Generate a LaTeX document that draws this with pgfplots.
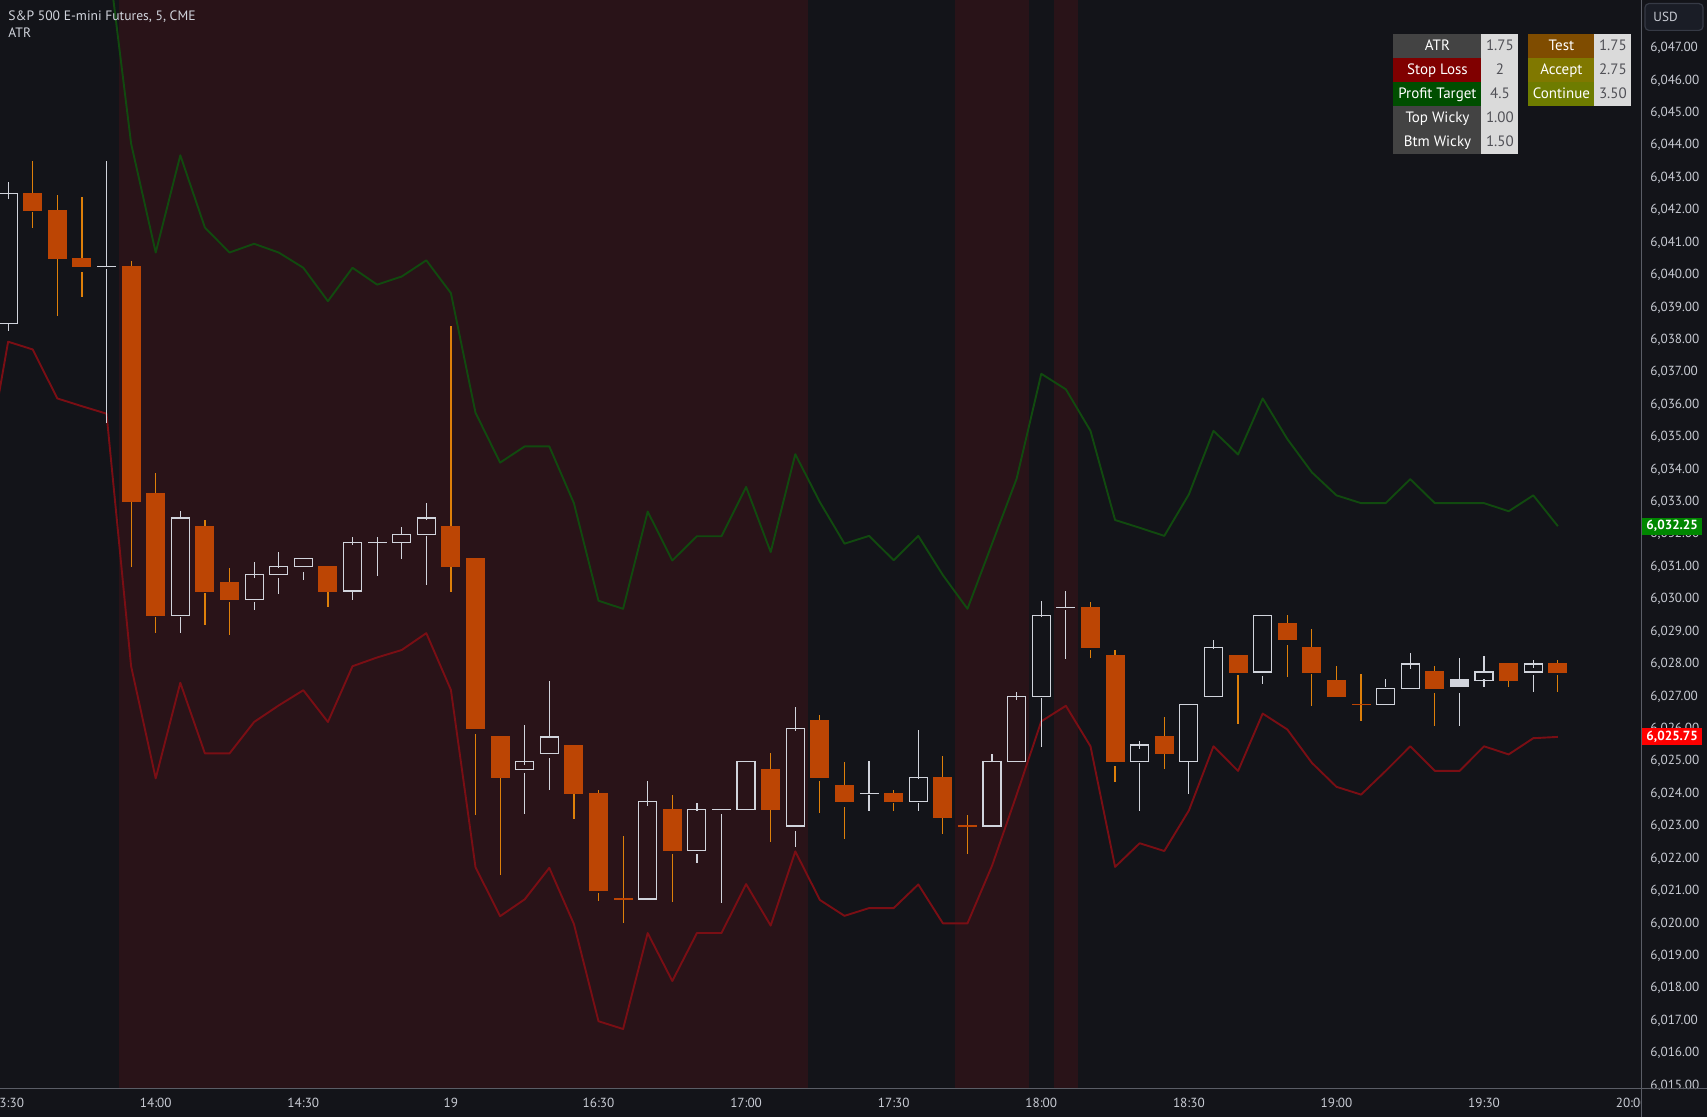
\documentclass[border=0pt]{standalone}
\usepackage{fontspec}
\setmainfont{PT Sans}
\usepackage{pgfplots}
\usepackage{pgfplotstable}
\pgfplotsset{compat=1.18}

\definecolor{bgcol}{RGB}{19,20,25}
\definecolor{shade}{RGB}{41,19,24}
\definecolor{bullcol}{RGB}{209,212,220}
\definecolor{bearbody}{RGB}{188,69,4}
\definecolor{bearwick}{RGB}{222,128,10}
\definecolor{tgtcol}{RGB}{17,74,15}
\definecolor{slcol}{RGB}{122,14,20}
\definecolor{axtext}{RGB}{200,203,211}
\definecolor{sepcol}{RGB}{90,93,102}
\definecolor{cellgray}{RGB}{67,67,67}
\definecolor{cellred}{RGB}{128,0,0}
\definecolor{cellgreen}{RGB}{0,78,0}
\definecolor{celltest}{RGB}{127,76,0}
\definecolor{cellacc}{RGB}{128,120,0}
\definecolor{cellcont}{RGB}{110,124,0}
\definecolor{cellval}{RGB}{218,218,218}
\definecolor{valtext}{RGB}{80,80,86}
\definecolor{pgcol}{RGB}{0,135,0}
\definecolor{pscol}{RGB}{255,0,0}
\definecolor{usdfill}{RGB}{26,29,38}
\definecolor{usdline}{RGB}{54,58,69}

% candles: i = bar index (0 = 14:00), o h l c
\pgfplotstableread{
i o h l c
-6 6038.5 6043 6038.25 6042.5
-2 6040.25 6043.5 6035.5 6040.25
1 6029.5 6032.75 6029 6032.5
4 6030 6031.25 6029.75 6030.75
5 6030.75 6031.5 6030.25 6031
6 6031 6031.25 6030.75 6031.25
8 6030.25 6032 6030 6031.75
9 6031.75 6032 6030.75 6031.75
10 6031.75 6032.25 6031.25 6032
11 6032 6033 6030.5 6032.5
15 6024.75 6026.25 6023.5 6025
16 6025.25 6027.5 6024.25 6025.75
20 6020.75 6024.5 6020.75 6023.75
22 6022.25 6023.75 6022 6023.5
23 6023.5 6023.5 6020.75 6023.5
24 6023.5 6025 6023.5 6025
26 6023 6026.75 6022.5 6026
29 6024 6025 6023.5 6024
31 6023.75 6026 6023.5 6024.5
34 6023 6025.25 6023 6025
35 6025 6027.25 6025 6027
36 6027 6030 6025.5 6029.5
37 6029.75 6030.25 6028.25 6029.75
40 6025 6025.75 6023.5 6025.5
42 6025 6026.75 6024 6026.75
43 6027 6028.75 6027 6028.5
45 6027.75 6029.5 6027.5 6029.5
50 6026.75 6027.5 6026.75 6027.25
51 6027.25 6028.5 6027.25 6028
54 6027.5 6028.25 6027.25 6027.75
56 6027.75 6028.25 6027.25 6028
}\bulltab

\pgfplotstableread{
i o h l c
-5 6042.5 6043.5 6041.5 6042
-4 6042 6042.5 6038.75 6040.5
-3 6040.5 6042.5 6039.5 6040.25
-1 6040.25 6040.5 6031 6033
0 6033.25 6034 6029 6029.5
2 6032.25 6032.5 6029.25 6030.25
3 6030.5 6031 6029 6030
7 6031 6031 6029.75 6030.25
12 6032.25 6038.5 6030.25 6031
13 6031.25 6031.25 6023.5 6026
14 6025.75 6025.75 6021.5 6024.5
17 6025.5 6025.5 6023.25 6024
18 6024 6024.25 6020.75 6021
19 6020.75 6022.75 6020 6020.75
21 6023.5 6024 6020.75 6022.25
25 6024.75 6025.25 6022.5 6023.5
27 6026.25 6026.5 6023.5 6024.5
28 6024.25 6025 6022.75 6023.75
30 6024 6024.25 6023.5 6023.75
32 6024.5 6025.25 6022.75 6023.25
33 6023 6023.5 6022.25 6023
38 6029.75 6030 6028.25 6028.5
39 6028.25 6028.5 6024.5 6025
41 6025.75 6026.5 6024.75 6025.25
44 6028.25 6028.25 6026.25 6027.75
46 6029.25 6029.5 6027.75 6028.75
47 6028.5 6029.25 6026.75 6027.75
48 6027.5 6028 6027 6027
49 6026.75 6027.75 6026.25 6026.75
52 6027.75 6028 6026.25 6027.25
55 6028 6028 6027.25 6027.5
57 6028 6028.25 6027.25 6027.75
}\beartab

\pgfplotstableread{
i o h l c
53 6027.5 6028.25 6026.25 6027.25
}\graytab

% profit target (pt) and stop loss (sl) lines
\pgfplotstableread{
i pt sl
-7 6051 6033.6
-6 6051 6037.94
-5 6051 6037.70
-4 6051 6036.19
-3 6051 6035.95
-2 6050.2 6035.72
-1 6044.05 6027.93
0 6040.69 6024.47
1 6043.69 6027.42
2 6041.46 6025.24
3 6040.69 6025.24
4 6040.96 6026.21
5 6040.69 6026.72
6 6040.22 6027.19
7 6039.19 6026.21
8 6040.22 6027.93
9 6039.70 6028.20
10 6039.95 6028.43
11 6040.45 6028.95
12 6039.44 6027.20
13 6035.75 6021.73
14 6034.21 6020.22
15 6034.71 6020.74
16 6034.71 6021.71
17 6032.96 6019.98
18 6029.95 6016.98
19 6029.70 6016.74
20 6032.70 6019.70
21 6031.19 6018.22
22 6031.94 6019.70
23 6031.94 6019.70
24 6033.46 6021.21
25 6031.45 6019.93
26 6034.47 6022.22
27 6032.99 6020.72
28 6031.71 6020.23
29 6031.95 6020.47
30 6031.20 6020.47
31 6031.95 6021.20
32 6030.74 6020.00
33 6029.70 6020.00
34 6031.71 6021.78
35 6033.72 6023.97
36 6036.95 6026.23
37 6036.47 6026.71
38 6035.19 6025.46
39 6032.44 6021.74
40 6032.20 6022.47
41 6031.95 6022.23
42 6033.23 6023.48
43 6035.19 6025.46
44 6034.46 6024.70
45 6036.19 6026.47
46 6034.94 6025.98
47 6033.91 6024.95
48 6033.20 6024.21
49 6032.96 6023.97
50 6032.96 6024.70
51 6033.70 6025.46
52 6032.96 6024.70
53 6032.96 6024.70
54 6032.96 6025.46
55 6032.71 6025.21
56 6033.20 6025.71
57 6032.25 6025.75
}\linetab

\pgfplotsset{
  chartbase/.style={
    at={(0pt,14pt)}, anchor=south west, scale only axis,
    width=820.5pt, height=544.5pt,
    xmin=-6.33, xmax=60.38, ymin=14.89, ymax=48.48,
  },
  wick/.style={draw=none, mark=none, forget plot,
    error bars/y dir=both, error bars/y explicit, error bars/error mark=none,
    error bars/error bar style={draw=#1, line width=0.6pt}},
  doji/.style={draw=none, mark=none, forget plot, unbounded coords=discard,
    error bars/x dir=both, error bars/x fixed=0.386, error bars/error mark=none,
    error bars/error bar style={draw=#1, line width=0.6pt}},
}

\newcommand{\tabfont}{\fontsize{7.5}{8}\selectfont}
\newcommand{\tcell}[6]{%
  \node[fill=#4, text=#5, font=\tabfont, anchor=north west, inner sep=0pt,
    minimum width=#2pt, minimum height=12pt, text height=5.2pt, text depth=1.5pt]
    at (#1pt,#3pt) {#6};}

\begin{document}
\begin{tikzpicture}
\fill[bgcol] (0,0) rectangle (853.5pt,558.5pt);

\begin{axis}[chartbase, clip mode=individual,
  axis line style={draw=none}, major tick length=0pt,
  xtick={-6,0,...,60},
  xticklabels={13:30,14:00,14:30,19,16:30,17:00,17:30,18:00,18:30,19:00,19:30,20:00},
  ytick={15,...,47}, yticklabel pos=right, scaled y ticks=false,
  /pgf/number format/assume math mode=true,
  yticklabel={6,0\pgfmathprintnumber[fixed,fixed zerofill,precision=2]{\tick}},
  ticklabel style={font=\fontsize{6.6}{8}\selectfont, text=axtext},
  xticklabel style={anchor=center, inner sep=0pt, yshift=-7pt},
  yticklabel style={anchor=west, inner sep=0pt, xshift=4.5pt},
]
  % session shading
  \addplot[fill=shade, draw=none, forget plot] coordinates {(-1.5,60) (26.5,60)} \closedcycle;
  \addplot[fill=shade, draw=none, forget plot] coordinates {(32.5,60) (35.5,60)} \closedcycle;
  \addplot[fill=shade, draw=none, forget plot] coordinates {(36.5,60) (37.5,60)} \closedcycle;

  \addplot[draw=tgtcol, line width=0.95pt, line join=round] table[x=i, y expr=\thisrow{pt}-6000] {\linetab};
  \addplot[draw=slcol, line width=0.95pt, line join=round] table[x=i, y expr=\thisrow{sl}-6000] {\linetab};

  % wicks
  \addplot[wick=bullcol] table[x=i, y expr={(\thisrow{h}+max(\thisrow{o},\thisrow{c}))/2-6000}, y error expr={(\thisrow{h}-max(\thisrow{o},\thisrow{c}))/2}] {\bulltab};
  \addplot[wick=bullcol] table[x=i, y expr={(\thisrow{l}+min(\thisrow{o},\thisrow{c}))/2-6000}, y error expr={(min(\thisrow{o},\thisrow{c})-\thisrow{l})/2}] {\bulltab};
  \addplot[wick=bearwick] table[x=i, y expr={(\thisrow{h}+max(\thisrow{o},\thisrow{c}))/2-6000}, y error expr={(\thisrow{h}-max(\thisrow{o},\thisrow{c}))/2}] {\beartab};
  \addplot[wick=bearwick] table[x=i, y expr={(\thisrow{l}+min(\thisrow{o},\thisrow{c}))/2-6000}, y error expr={(min(\thisrow{o},\thisrow{c})-\thisrow{l})/2}] {\beartab};
  \addplot[wick=bullcol] table[x=i, y expr={(\thisrow{h}+max(\thisrow{o},\thisrow{c}))/2-6000}, y error expr={(\thisrow{h}-max(\thisrow{o},\thisrow{c}))/2}] {\graytab};
  \addplot[wick=bullcol] table[x=i, y expr={(\thisrow{l}+min(\thisrow{o},\thisrow{c}))/2-6000}, y error expr={(min(\thisrow{o},\thisrow{c})-\thisrow{l})/2}] {\graytab};
  % doji bodies (open = close)
  \addplot[doji=bullcol] table[x=i, y expr={\thisrow{o}==\thisrow{c} ? \thisrow{o}-6000 : nan}] {\bulltab};
  \addplot[doji=bearbody] table[x=i, y expr={\thisrow{o}==\thisrow{c} ? \thisrow{o}-6000 : nan}] {\beartab};
  % filled light candle body
  \addplot[draw=none, mark=none, forget plot,
    error bars/y dir=both, error bars/y explicit, error bars/error mark=none,
    error bars/error bar style={draw=bullcol, line width=9.5pt}]
    table[x=i, y expr={(\thisrow{o}+\thisrow{c})/2-6000}, y error expr={abs(\thisrow{o}-\thisrow{c})/2}] {\graytab};

  \coordinate (pg) at (axis cs:60.38,32.25);
  \coordinate (ps) at (axis cs:60.38,25.75);
\end{axis}

% bear bodies
\begin{axis}[chartbase, hide axis, ybar stacked, bar width=9pt]
  \addplot[draw=none, fill=none] table[x=i, y expr={min(\thisrow{o},\thisrow{c})-6000}] {\beartab};
  \addplot[fill=bearbody, draw=bearbody, line width=0.5pt] table[x=i, y expr={abs(\thisrow{o}-\thisrow{c})}] {\beartab};
\end{axis}

% bull bodies
\begin{axis}[chartbase, hide axis, ybar stacked, bar width=9pt]
  \addplot[draw=none, fill=none] table[x=i, y expr={min(\thisrow{o},\thisrow{c})-6000}] {\bulltab};
  \addplot[fill=none, draw=bullcol, line width=0.6pt] table[x=i, y expr={abs(\thisrow{o}-\thisrow{c})}] {\bulltab};
\end{axis}

% price scale frame
\fill[bgcol] (820.75pt,0) rectangle (853.5pt,13.7pt);
\draw[sepcol, line width=0.5pt] (820.75pt,0) -- (820.75pt,558.5pt);
\draw[sepcol, line width=0.5pt] (0,14pt) -- (853.5pt,14pt);
\draw[fill=usdfill, draw=usdline, rounded corners=2pt, line width=0.6pt] (822.5pt,543.3pt) rectangle (851.5pt,556.7pt);
\node[anchor=west, text=axtext, font=\fontsize{6.6}{8}\selectfont, inner sep=0pt] at (826.5pt,550pt) {USD};

\node[fill=pgcol, text=white, font=\fontsize{6.6}{8}\selectfont\bfseries, anchor=west,
  minimum width=30pt, minimum height=8.5pt, inner sep=0pt] at ([xshift=0.4pt]pg) {6,032.25};
\node[fill=pscol, text=white, font=\fontsize{6.6}{8}\selectfont\bfseries, anchor=west,
  minimum width=30pt, minimum height=8.5pt, inner sep=0pt] at ([xshift=0.4pt]ps) {6,025.75};

% title
\node[anchor=base west, text=bullcol, font=\fontsize{6.8}{8}\selectfont, inner sep=0pt] at (4pt,548.2pt) {S\&P 500 E-mini Futures, 5, CME};
\node[anchor=base west, text=bullcol, font=\fontsize{6.8}{8}\selectfont, inner sep=0pt] at (4pt,539.7pt) {ATR};

% settings tables
\tcell{696.5}{44}{541.5}{cellgray}{white}{ATR}
\tcell{740.5}{18.5}{541.5}{cellval}{valtext}{1.75}
\tcell{696.5}{44}{529.5}{cellred}{white}{Stop Loss}
\tcell{740.5}{18.5}{529.5}{cellval}{valtext}{2}
\tcell{696.5}{44}{517.5}{cellgreen}{white}{Profit Target}
\tcell{740.5}{18.5}{517.5}{cellval}{valtext}{4.5}
\tcell{696.5}{44}{505.5}{cellgray}{white}{Top Wicky}
\tcell{740.5}{18.5}{505.5}{cellval}{valtext}{1.00}
\tcell{696.5}{44}{493.5}{cellgray}{white}{Btm Wicky}
\tcell{740.5}{18.5}{493.5}{cellval}{valtext}{1.50}
\tcell{764}{33}{541.5}{celltest}{white}{Test}
\tcell{797}{18.5}{541.5}{cellval}{valtext}{1.75}
\tcell{764}{33}{529.5}{cellacc}{white}{Accept}
\tcell{797}{18.5}{529.5}{cellval}{valtext}{2.75}
\tcell{764}{33}{517.5}{cellcont}{white}{Continue}
\tcell{797}{18.5}{517.5}{cellval}{valtext}{3.50}

\pgfresetboundingbox
\useasboundingbox (0,0) rectangle (853.5pt,558.5pt);
\end{tikzpicture}
\end{document}
